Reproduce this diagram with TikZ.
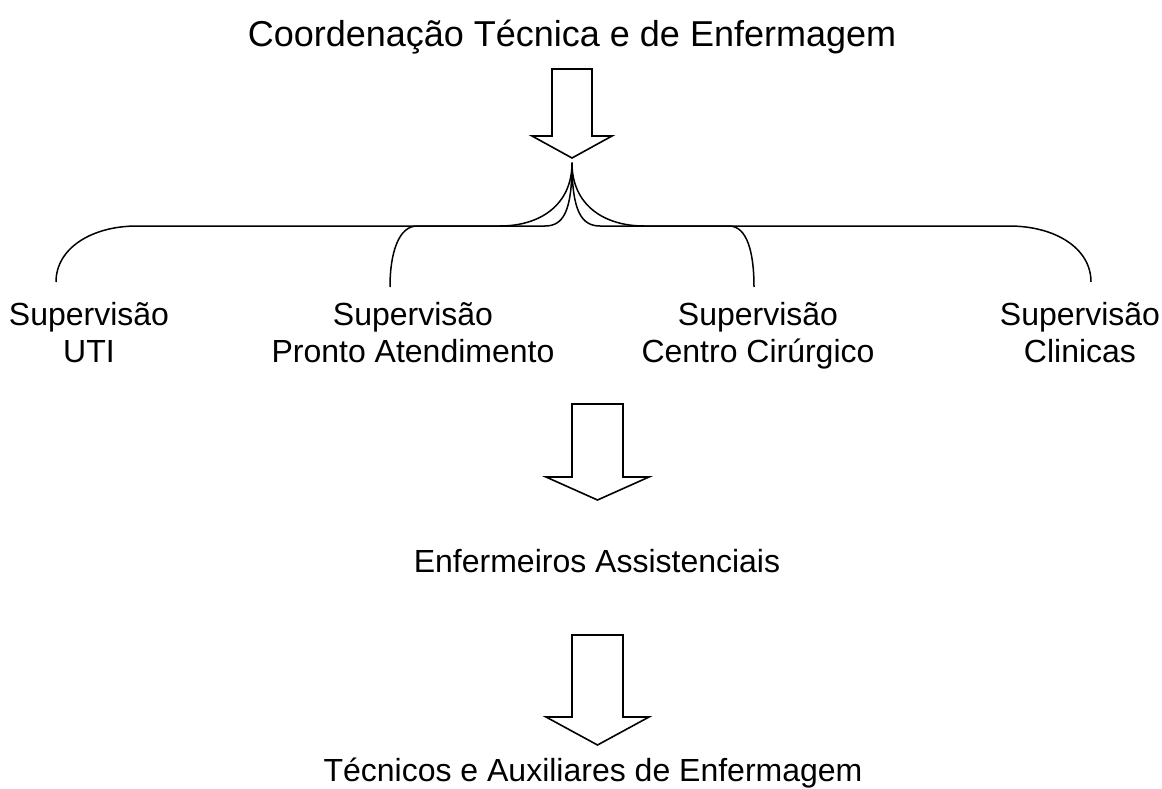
\documentclass[tikz,border=0pt]{standalone}
\usepackage{fontspec}
\setmainfont{Liberation Sans}
\tikzset{
  lbl/.style={anchor=base,inner sep=0pt,align=center,font=\fontsize{32}{37}\selectfont},
  titlelbl/.style={anchor=base,inner sep=0pt,font=\fontsize{36}{43}\selectfont},
  blockarrow/.style={line width=1.6pt,line join=miter},
  bracepath/.style={line width=1.5pt}
}
\begin{document}
\begin{tikzpicture}[x=1pt,y=-1pt,line cap=butt,line join=round]
  \useasboundingbox (0,0) rectangle (1162,789);

  % texts (base = baseline of the last line)
  \node[titlelbl] (coord) at (572,47) {Coordenação Técnica e de Enfermagem};
  \node[lbl] (uti) at (89,362) {Supervisão\\UTI};
  \node[lbl] (pa)  at (413,362) {Supervisão\\Pronto Atendimento};
  \node[lbl] (cc)  at (758,362) {Supervisão\\Centro Cirúrgico};
  \node[lbl] (cli) at (1080,362) {Supervisão\\Clinicas};
  \node[lbl] (enf) at (597,572) {Enfermeiros Assistenciais};
  \node[lbl] (tec) at (593,781) {Técnicos e Auxiliares de Enfermagem};

  % block arrows: centre / top / shoulder / tip / half shaft / half head
  \foreach \cx/\tp/\sh/\tip/\hs/\hh in {572/69/136/158/20/40,
                                         597.5/404/477/500/25.5/51.5,
                                         597.5/635/717/745/25.5/51.5} {
    \draw[blockarrow] (\cx-\hs,\tp) -- (\cx+\hs,\tp) -- (\cx+\hs,\sh)
      -- (\cx+\hh,\sh) -- (\cx,\tip) -- (\cx-\hh,\sh) -- (\cx-\hs,\sh) -- cycle;
  }

  % brace ends
  \coordinate (tip) at (572,163);
  \coordinate (uti-end) at (56,282);
  \coordinate (pa-end)  at (390,287);
  \coordinate (cc-end)  at (754,287);
  \coordinate (cli-end) at (1091,282);

  % outer brace
  \draw[bracepath] (uti-end) .. controls (56,248) and (92,226) .. (137,226)
    -- (500,226) .. controls (540,226) and (572,205) .. (tip)
    .. controls (572,205) and (604,226) .. (644,226)
    -- (1009,226) .. controls (1055,226) and (1091,248) .. (cli-end);
  % inner brace
  \draw[bracepath] (pa-end) .. controls (390,252) and (399,226) .. (417,226)
    -- (545,226) .. controls (563,226) and (572,212) .. (tip)
    .. controls (572,212) and (582,226) .. (600,226)
    -- (729,226) .. controls (747,226) and (754,252) .. (cc-end);
\end{tikzpicture}
\end{document}
